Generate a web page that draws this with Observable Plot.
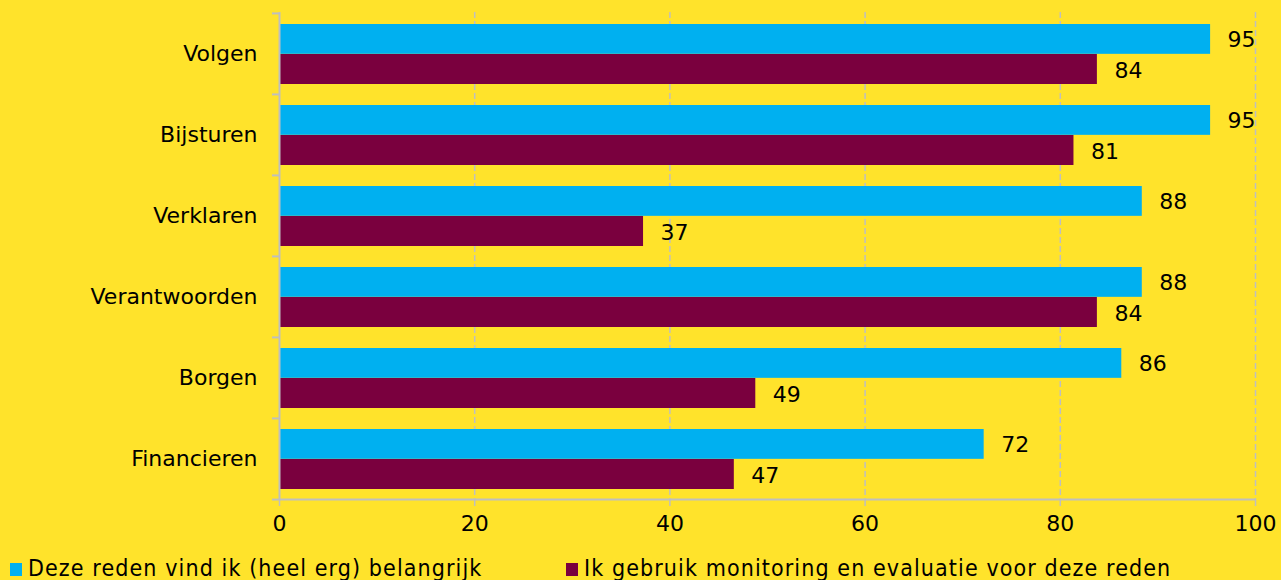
<!DOCTYPE html>
<html><head><meta charset="utf-8">
<script src="https://cdn.jsdelivr.net/npm/d3@7"></script>
<script src="https://cdn.jsdelivr.net/npm/@observablehq/plot@0.6"></script>
<style>
html,body{margin:0;padding:0;background:#FFE32B;}
#chart{position:relative;width:1281px;height:580px;overflow:hidden;background:#FFE32B;}
#chart svg{position:absolute;left:0;top:0;background:transparent;}
.legend{position:absolute;top:554px;left:10px;display:flex;font-family:"DejaVu Sans Condensed","DejaVu Sans";font-size:23px;letter-spacing:1.1px;color:#000;white-space:nowrap;line-height:28px;}
.item{display:flex;align-items:center;}
.sw{width:12px;height:13px;margin-right:6px;margin-top:2px;flex:none;}
</style></head><body><div id="chart"></div>
<script>
const categories = ["Volgen","Bijsturen","Verklaren","Verantwoorden","Borgen","Financieren"];
const belangrijk = [95.4,95.4,88.4,88.4,86.3,72.2];
const gebruik = [83.8,81.4,37.3,83.8,48.8,46.6];
const xTicks = [0,20,40,60,80,100];
const seriesNames = ["Deze reden vind ik (heel erg) belangrijk","Ik gebruik monitoring en evaluatie voor deze reden"];
const colors = ["#00B0F0","#7A003E"];

const rowsA = categories.map((c,i)=>({cat:c, value:belangrijk[i]}));
const rowsB = categories.map((c,i)=>({cat:c, value:gebruik[i]}));

const H = 548, mTop = 12, mBottom = 49;
const bw = (H - mTop - mBottom) / categories.length;
const font = "DejaVu Sans";
const gray = "#BFBFBF";

const plot = Plot.plot({
  width: 1281, height: H,
  marginLeft: 279, marginRight: 26, marginTop: mTop, marginBottom: mBottom,
  style: {background: "transparent", fontFamily: font, fontSize: "22px", color: "#000"},
  x: {domain: [0, 100]},
  y: {domain: categories, padding: 0},
  marks: [
    Plot.gridX(xTicks.slice(1), {stroke: gray, strokeOpacity: 1, strokeWidth: 1.5, strokeDasharray: "6,3"}),
    Plot.barX(rowsA, {y: "cat", x: "value", fill: colors[0], insetTop: 11, insetBottom: bw - 41}),
    Plot.barX(rowsB, {y: "cat", x: "value", fill: colors[1], insetTop: 41, insetBottom: 10}),
    Plot.text(rowsA, {y: "cat", x: "value", text: d => d3.format(".0f")(d.value), dx: 17, dy: -14, textAnchor: "start", fill: "#000", fontSize: 22}),
    Plot.text(rowsB, {y: "cat", x: "value", text: d => d3.format(".0f")(d.value), dx: 17, dy: 17, textAnchor: "start", fill: "#000", fontSize: 22}),
    Plot.ruleX([0], {stroke: gray, strokeWidth: 2}),
    Plot.ruleY([categories[categories.length-1]], {y: d => d, dy: bw/2, x1: 0, x2: 100, stroke: gray, strokeWidth: 2}),
    Plot.axisY({tickSize: 0, tickPadding: 22, fontSize: 22, label: null, style: {letterSpacing: "0.6px"}}),
    Plot.axisY({text: null, tickSize: 7, dy: -bw/2, stroke: gray, strokeWidth: 2, label: null}),
    Plot.axisY([categories[categories.length-1]], {text: null, tickSize: 7, dy: bw/2, stroke: gray, strokeWidth: 2, label: null}),
    Plot.axisX(xTicks, {tickSize: 7, tickPadding: 9, stroke: gray, strokeWidth: 1.5, fontSize: 22, label: null})
  ]
});
const chart = document.getElementById("chart");
chart.appendChild(plot);

const legend = document.createElement("div");
legend.className = "legend";
seriesNames.forEach((name, i) => {
  const item = document.createElement("div");
  item.className = "item";
  const sw = document.createElement("span");
  sw.className = "sw"; sw.style.background = colors[i];
  const t = document.createElement("span");
  t.textContent = name;
  item.appendChild(sw); item.appendChild(t);
  legend.appendChild(item);
});
chart.appendChild(legend);
// place the second legend item where the reference has it
const items = legend.querySelectorAll(".item");
const firstRight = items[0].getBoundingClientRect().right;
items[1].style.marginLeft = Math.max(10, 566 - firstRight) + "px";
</script></body></html>
